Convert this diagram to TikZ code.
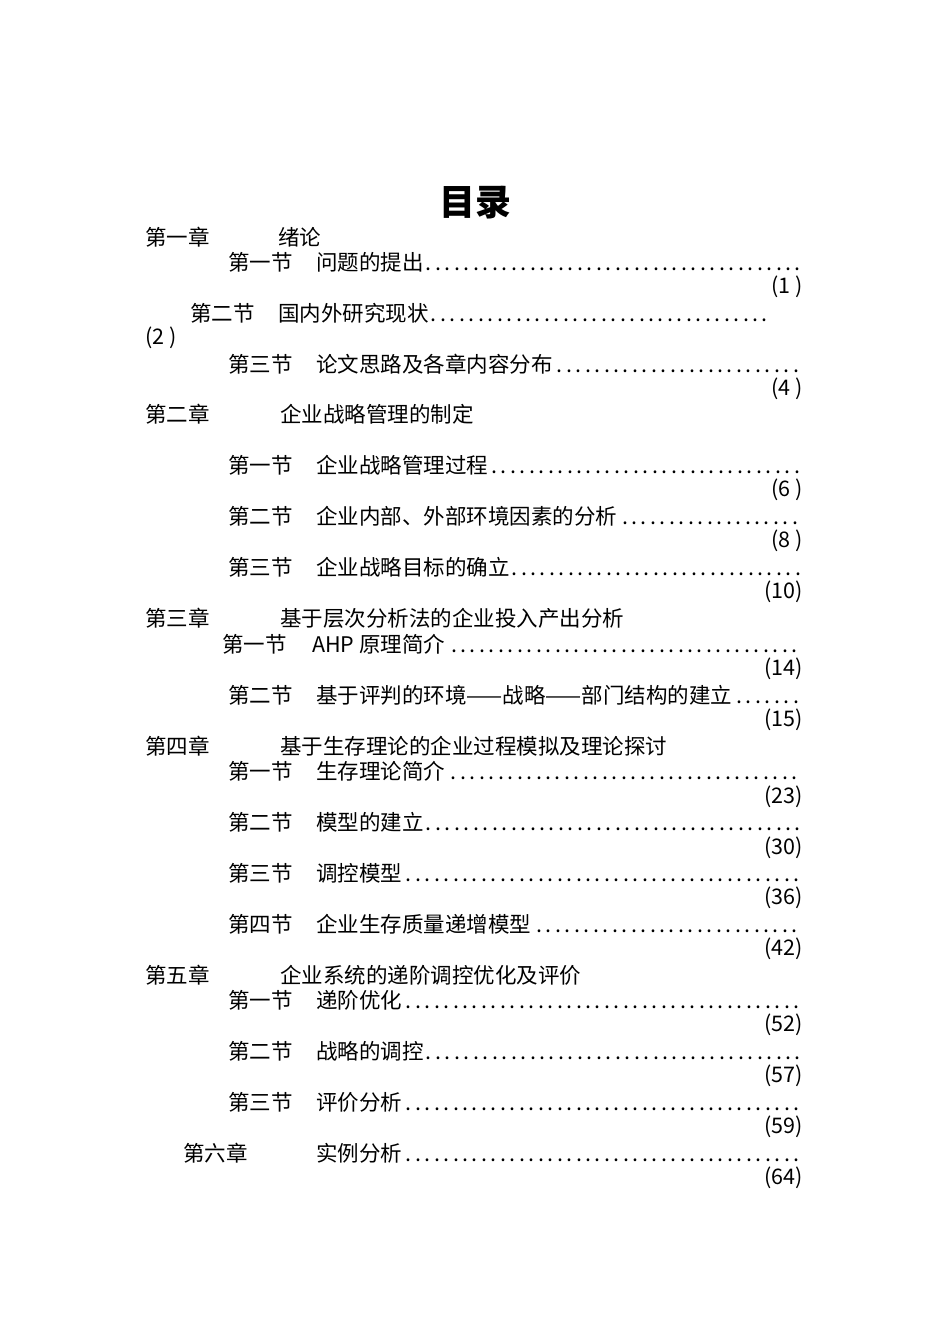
\documentclass[tikz,border=0pt]{standalone}
\usepackage{fontspec}
\setmainfont{Noto Sans CJK SC}
\newcommand{\tocline}[5]{% y, x sec, sec, x title, title with dots
  \node[tx,anchor=west] at (#2,#1) {#3};
  \pgfmathsetmacro{\mylinewd}{803-#4}
  \node[tx,anchor=west] at (#4,#1) {\makebox[\mylinewd pt][l]{#5\dotfill}};}
\newcommand{\pnum}[2]{\node[tx,anchor=east] at (803,#1) {#2};}
\begin{document}
\begin{tikzpicture}[x=1pt,y=-1pt,tx/.style={inner sep=0pt,font=\fontsize{21.5}{23}\selectfont}]
\useasboundingbox (0,0) rectangle (950,1344);
\node[font=\fontsize{36}{38}\selectfont\bfseries] (title) at (475,203) {目录};
\node[tx,anchor=west] (c1) at (145,237) {第一章};
\node[tx,anchor=west] (c1t) at (278,237) {绪论};
\tocline{262}{228}{第一节}{316}{问题的提出}
\pnum{287}{(1 )}
\node[tx,anchor=west] at (190,313) {第二节};
\node[tx,anchor=west] at (278,313) {\makebox[492pt][l]{国内外研究现状\dotfill}};
\node[tx,anchor=west] at (145,338) {(2 )};
\tocline{364}{228}{第三节}{316}{论文思路及各章内容分布}
\pnum{389}{(4 )}
\node[tx,anchor=west] at (145,414) {第二章};
\node[tx,anchor=west] at (280,414) {企业战略管理的制定};
\tocline{465}{228}{第一节}{316}{企业战略管理过程}
\pnum{490}{(6 )}
\tocline{516}{228}{第二节}{316}{企业内部、外部环境因素的分析}
\pnum{541}{(8 )}
\tocline{567}{228}{第三节}{316}{企业战略目标的确立}
\pnum{592}{(10)}
\node[tx,anchor=west] at (145,618) {第三章};
\node[tx,anchor=west] at (280,618) {基于层次分析法的企业投入产出分析};
\tocline{644}{222}{第一节}{312}{AHP 原理简介}
\pnum{669}{(14)}
\tocline{695}{228}{第二节}{316}{基于评判的环境——战略——部门结构的建立}
\pnum{720}{(15)}
\node[tx,anchor=west] at (145,746) {第四章};
\node[tx,anchor=west] at (280,746) {基于生存理论的企业过程模拟及理论探讨};
\tocline{771}{228}{第一节}{316}{生存理论简介}
\pnum{797}{(23)}
\tocline{822}{228}{第二节}{316}{模型的建立}
\pnum{848}{(30)}
\tocline{873}{228}{第三节}{316}{调控模型}
\pnum{898}{(36)}
\tocline{924}{228}{第四节}{316}{企业生存质量递增模型}
\pnum{949}{(42)}
\node[tx,anchor=west] at (145,975) {第五章};
\node[tx,anchor=west] at (280,975) {企业系统的递阶调控优化及评价};
\tocline{1000}{228}{第一节}{316}{递阶优化}
\pnum{1025}{(52)}
\tocline{1051}{228}{第二节}{316}{战略的调控}
\pnum{1076}{(57)}
\tocline{1102}{228}{第三节}{316}{评价分析}
\pnum{1127}{(59)}
\tocline{1153}{183}{第六章}{316}{实例分析}
\pnum{1178}{(64)}
\end{tikzpicture}
\end{document}
